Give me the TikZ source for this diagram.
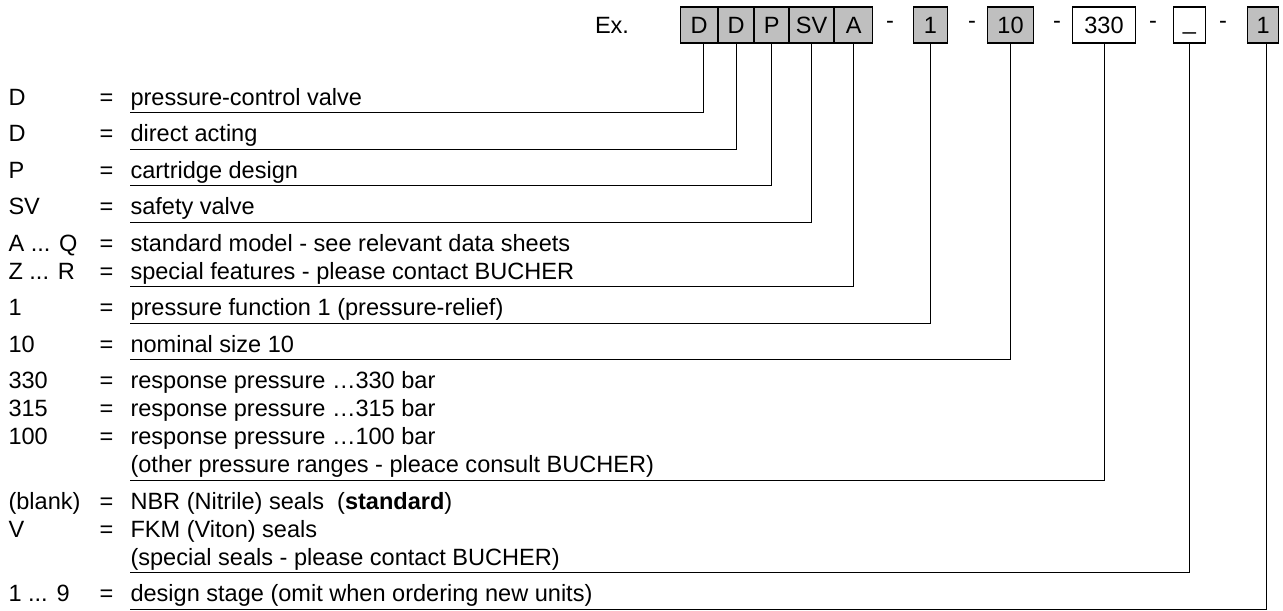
\documentclass[tikz,border=0pt]{standalone}
\usepackage{fontspec}
\setmainfont{Liberation Sans}
\usetikzlibrary{positioning}

\begin{document}
\begin{tikzpicture}[x=0.02cm,y=-0.02cm,line width=0.6pt,font=\fontsize{13.4}{16}\selectfont]
    \tikzstyle{code box}=[draw=black,fill=black!25,minimum height=0.72cm,inner sep=0pt,text height=9.6pt,text depth=0pt]
    \tikzstyle{free box}=[code box,fill=white]
    \tikzstyle{code}=[anchor=base west,inner sep=0pt]
    \tikzstyle{desc}=[anchor=base west,inner sep=0pt,text depth=0.14cm]
    \useasboundingbox (0,0) rectangle (1283,610);

    % Draw the order code
    \node[text height=9.6pt,text depth=0pt] (ex) at (612,25) {Ex.};
    \node[code box,minimum width=0.74cm,anchor=west] (B-D1) at (680,25) {D};
    \node[code box,minimum width=0.70cm,right=0pt of B-D1] (B-D2) {D};
    \node[code box,minimum width=0.68cm,right=0pt of B-D2] (B-P) {P};
    \node[code box,minimum width=0.88cm,right=0pt of B-P] (B-SV) {SV};
    \node[code box,minimum width=0.76cm,right=0pt of B-SV] (B-A) {A};
    \node (S-1) at (890,25) {-};
    \node[code box,minimum width=0.68cm,anchor=west] (B-F) at (913,25) {1};
    \node (S-2) at (972,25) {-};
    \node[code box,minimum width=0.92cm,anchor=west] (B-N) at (987,25) {10};
    \node (S-3) at (1057,25) {-};
    \node[free box,minimum width=1.26cm,anchor=west] (B-R) at (1072,25) {330};
    \node (S-4) at (1153,25) {-};
    \node[free box,minimum width=0.64cm,anchor=west] (B-S) at (1173,25) {\raisebox{0.15em}{\_}};
    \node (S-5) at (1223,25) {-};
    \node[code box,minimum width=0.62cm,anchor=west] (B-G) at (1247,25) {1};

    % Draw the key
    \node[code] (K-1) at (8,105) {D};
    \node[code] (E-1) at (99,105) {=};
    \node[desc] (T-1) at (130,105) {pressure-control valve};
    \node[code] (K-2) at (8,141.5) {D};
    \node[code] (E-2) at (99,141.5) {=};
    \node[desc] (T-2) at (130,141.5) {direct acting};
    \node[code] (K-3) at (8,178) {P};
    \node[code] (E-3) at (99,178) {=};
    \node[desc] (T-3) at (130,178) {cartridge design};
    \node[code] (K-4) at (8,214.5) {SV};
    \node[code] (E-4) at (99,214.5) {=};
    \node[desc] (T-4) at (130,214.5) {safety valve};
    \node[code] (K-5) at (8,251) {A ... Q};
    \node[code] (E-5) at (99,251) {=};
    \node[desc] (T-5) at (130,251) {standard model - see relevant data sheets};
    \node[code] (K-6) at (8,279) {Z ... R};
    \node[code] (E-6) at (99,279) {=};
    \node[desc] (T-6) at (130,279) {special features - please contact BUCHER};
    \node[code] (K-7) at (8,315.5) {1};
    \node[code] (E-7) at (99,315.5) {=};
    \node[desc] (T-7) at (130,315.5) {pressure function 1 (pressure-relief)};
    \node[code] (K-8) at (8,352) {10};
    \node[code] (E-8) at (99,352) {=};
    \node[desc] (T-8) at (130,352) {nominal size 10};
    \node[code] (K-9) at (8,388.5) {330};
    \node[code] (E-9) at (99,388.5) {=};
    \node[desc] (T-9) at (130,388.5) {response pressure …330 bar};
    \node[code] (K-10) at (8,416.5) {315};
    \node[code] (E-10) at (99,416.5) {=};
    \node[desc] (T-10) at (130,416.5) {response pressure …315 bar};
    \node[code] (K-11) at (8,444.5) {100};
    \node[code] (E-11) at (99,444.5) {=};
    \node[desc] (T-11) at (130,444.5) {response pressure …100 bar};
    \node[desc] (T-12) at (130,472.5) {(other pressure ranges - pleace consult BUCHER)};
    \node[code] (K-13) at (8,509) {(blank)};
    \node[code] (E-13) at (99,509) {=};
    \node[desc] (T-13) at (130,509) {NBR (Nitrile) seals \ (\textbf{standard})};
    \node[code] (K-14) at (8,537) {V};
    \node[code] (E-14) at (99,537) {=};
    \node[desc] (T-14) at (130,537) {FKM (Viton) seals};
    \node[desc] (T-15) at (130,565) {(special seals - please contact BUCHER)};
    \node[code] (K-16) at (8,601.5) {1 ... 9};
    \node[code] (E-16) at (99,601.5) {=};
    \node[desc] (T-16) at (130,601.5) {design stage (omit when ordering new units)};

    % Leader lines
    \draw ([xshift=0.09cm]B-D1.south) |- (T-1.south west);
    \draw (B-D2.south) |- (T-2.south west);
    \draw (B-P.south) |- (T-3.south west);
    \draw (B-SV.south) |- (T-4.south west);
    \draw (B-A.south) |- (T-6.south west);
    \draw (B-F.south) |- (T-7.south west);
    \draw (B-N.south) |- (T-8.south west);
    \draw (B-R.south) |- (T-12.south west);
    \draw (B-S.south) |- (T-15.south west);
    \draw ([xshift=0.06cm]B-G.south) |- (T-16.south west);
\end{tikzpicture}
\end{document}
